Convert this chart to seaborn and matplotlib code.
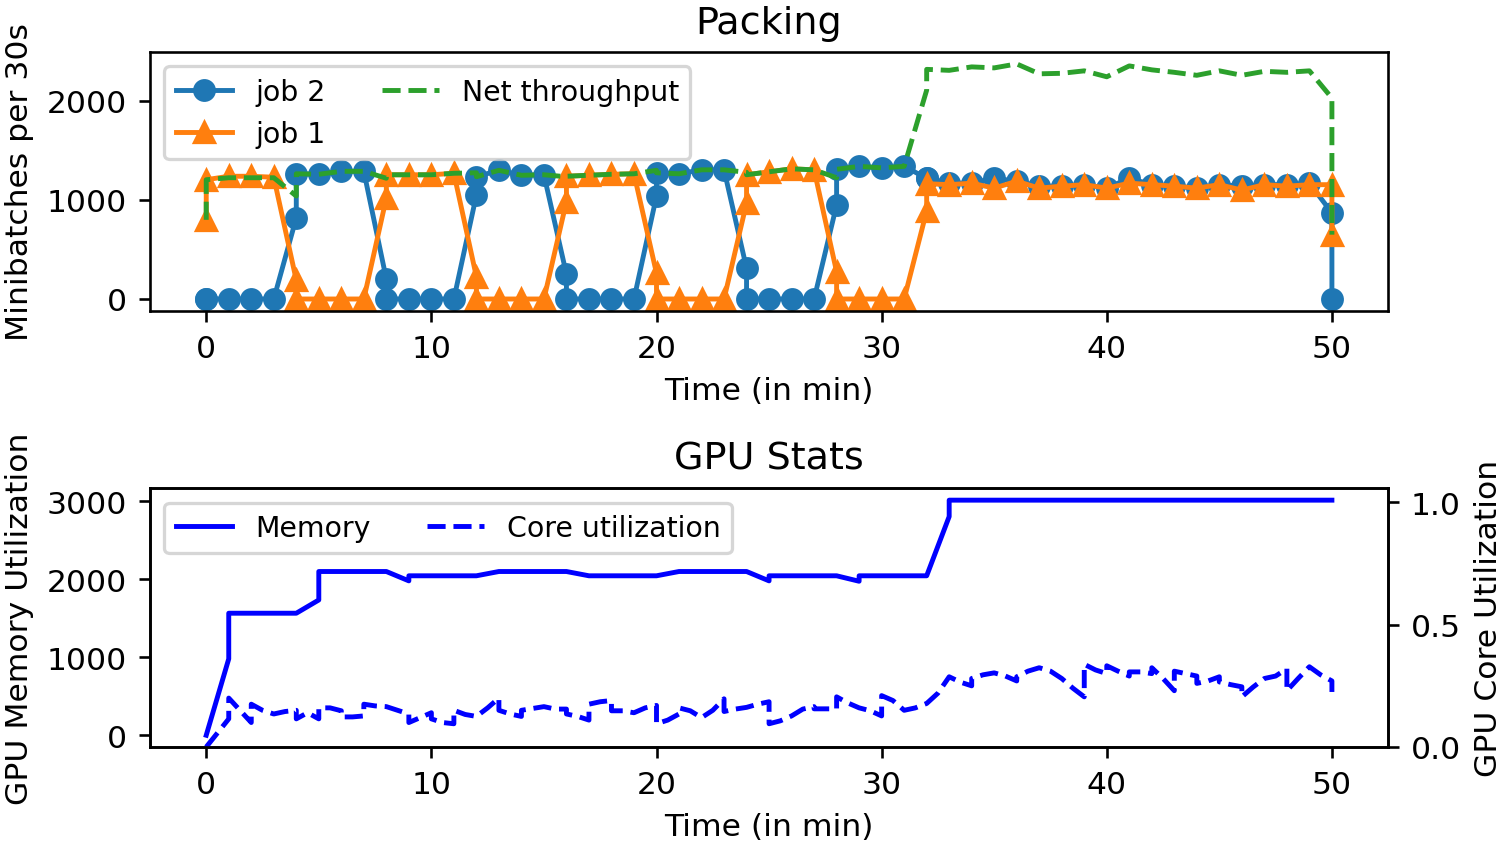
#!/usr/bin/env python3

import matplotlib
matplotlib.use("Agg")
import matplotlib.pyplot as plt
import seaborn as sns

plt.rcParams["font.size"] = 9.6
plt.rcParams["axes.titlesize"] = 11.7
plt.rcParams["legend.fontsize"] = 8.7

# ---- Packing: one sample per row, repeated minutes mark a switch-over ----
time_min = [0, 0, 1, 2, 3, 4, 4, 5, 6, 7, 8, 8, 9, 10, 11, 12, 12, 13, 14, 15,
            16, 16, 17, 18, 19, 20, 20, 21, 22, 23, 24, 24, 25, 26, 27, 28, 28,
            29, 30, 31, 32, 32, 33, 34, 35, 36, 37, 38, 39, 40, 41, 42, 43, 44,
            45, 46, 47, 48, 49, 50, 50]
job2 = [0, 0, 0, 0, 0, 820, 1265, 1260, 1290, 1290, 200, 0, 0, 0, 0, 1050, 1235,
        1300, 1250, 1255, 250, 0, 0, 0, 0, 1040, 1275, 1265, 1305, 1305, 310, 0,
        0, 0, 0, 950, 1310, 1340, 1325, 1340, 1220, 1220, 1170, 1170, 1220, 1190,
        1140, 1140, 1155, 1120, 1220, 1155, 1140, 1120, 1155, 1140, 1155, 1155,
        1170, 870, 0]
job1 = [800, 1205, 1240, 1240, 1230, 190, 0, 0, 0, 0, 1020, 1255, 1255, 1255,
        1270, 225, 0, 0, 0, 0, 985, 1240, 1250, 1260, 1265, 260, 0, 0, 0, 0, 970,
        1255, 1285, 1315, 1305, 275, 0, 0, 0, 0, 890, 1165, 1155, 1170, 1120, 1190,
        1120, 1140, 1155, 1120, 1170, 1155, 1140, 1120, 1155, 1100, 1155, 1140,
        1155, 1155, 650]
net_throughput = [800, 1205, 1225, 1225, 1225, 1040, 1265, 1260, 1290, 1290,
                  1220, 1255, 1255, 1255, 1270, 1275, 1235, 1300, 1250, 1255,
                  1235, 1240, 1250, 1260, 1265, 1300, 1275, 1265, 1305, 1305,
                  1280, 1255, 1285, 1315, 1305, 1225, 1310, 1340, 1325, 1340,
                  2110, 2320, 2310, 2345, 2335, 2375, 2275, 2280, 2305, 2245,
                  2355, 2315, 2290, 2260, 2305, 2260, 2300, 2290, 2305, 2030, 650]

# ---- GPU stats ----
mem_t = [0, 1, 1, 4, 5, 5, 8, 9, 9, 12, 13, 16, 17, 20, 21, 24, 25, 25, 28, 29,
         29, 32, 33, 33, 50]
mem_used = [0, 980, 1565, 1565, 1735, 2100, 2100, 1980, 2045, 2045, 2100, 2100,
            2045, 2045, 2100, 2100, 1980, 2045, 2045, 1975, 2045, 2045, 2805,
            3015, 3015]

core_t = [0, 1, 1, 2, 2, 2.5, 3, 3.5, 4, 4, 4.5, 5, 5, 5.5, 6, 6, 6.5, 7, 7,
          7.5, 8, 8.5, 9, 9, 9.5, 10, 10, 10.5, 11, 11, 11.5, 12, 12.5, 13, 13,
          13.5, 14, 14, 15, 15.5, 16, 16, 16.5, 17, 17, 17.5, 18, 18, 18.5, 19,
          19.5, 20, 20, 20.5, 21, 21, 21.5, 22, 22.5, 23, 23, 23.5, 24, 24.5, 25,
          25, 25.5, 26, 26.5, 27, 27, 28, 28, 28.5, 29, 29.5, 30, 30, 30.5, 31,
          31.5, 32, 32.5, 33, 33.5, 34, 34, 34.5, 35, 35.5, 36, 36, 36.5, 37,
          37.5, 38, 38.5, 39, 39, 39.5, 40, 40, 40.5, 41, 41, 41.5, 42, 42, 42.5,
          43, 43, 43.5, 44, 44, 44.5, 45, 45, 45.5, 46, 46, 46.5, 47, 47.5, 48,
          48, 48.5, 49, 49.5, 50, 50]
core_util = [0.0, 0.115, 0.20, 0.10, 0.175, 0.15, 0.135, 0.145, 0.15, 0.115,
             0.14, 0.115, 0.16, 0.16, 0.148, 0.123, 0.123, 0.127, 0.175, 0.168,
             0.165, 0.15, 0.135, 0.10, 0.12, 0.14, 0.115, 0.10, 0.095, 0.15,
             0.133, 0.125, 0.16, 0.20, 0.15, 0.135, 0.125, 0.15, 0.165, 0.155,
             0.155, 0.135, 0.125, 0.11, 0.175, 0.185, 0.19, 0.148, 0.148, 0.14,
             0.16, 0.17, 0.095, 0.11, 0.135, 0.16, 0.148, 0.12, 0.15, 0.197,
             0.145, 0.155, 0.162, 0.175, 0.185, 0.095, 0.107, 0.127, 0.155,
             0.165, 0.156, 0.156, 0.205, 0.18, 0.16, 0.148, 0.127, 0.21, 0.19,
             0.15, 0.16, 0.178, 0.22, 0.287, 0.265, 0.25, 0.28, 0.295, 0.303,
             0.29, 0.27, 0.287, 0.31, 0.324, 0.31, 0.28, 0.24, 0.205, 0.338,
             0.315, 0.30, 0.332, 0.31, 0.29, 0.307, 0.307, 0.30, 0.324, 0.28,
             0.23, 0.31, 0.30, 0.29, 0.26, 0.27, 0.287, 0.266, 0.255, 0.246,
             0.205, 0.245, 0.28, 0.29, 0.32, 0.23, 0.28, 0.328, 0.295, 0.27,
             0.225]

fig, (ax_pack, ax_gpu) = plt.subplots(2, 1, figsize=(6.4, 3.587), dpi=235)
fig.subplots_adjust(left=0.0997, right=0.923, top=0.937, bottom=0.1127,
                    hspace=0.687)

# top panel
sns.lineplot(x=time_min, y=job2, ax=ax_pack, estimator=None, sort=False,
             color="#1f77b4", marker="o", markersize=6,
             markeredgecolor="#1f77b4", markeredgewidth=1.0, label="job 2")
sns.lineplot(x=time_min, y=job1, ax=ax_pack, estimator=None, sort=False,
             color="#ff7f0e", marker="^", markersize=6,
             markeredgecolor="#ff7f0e", markeredgewidth=1.0, label="job 1")
sns.lineplot(x=time_min, y=net_throughput, ax=ax_pack, estimator=None,
             sort=False, color="#2ca02c", linestyle="--",
             label="Net throughput")
ax_pack.legend(ncol=2, loc="upper left")
ax_pack.set_title("Packing")
ax_pack.set_xlabel("Time (in min)")
ax_pack.set_ylabel("Minibatches per 30s")
ax_pack.set_xticks([0, 10, 20, 30, 40, 50])

# bottom panel
sns.lineplot(x=mem_t, y=mem_used, ax=ax_gpu, estimator=None, sort=False,
             color="b", label="Memory")
ax_core = ax_gpu.twinx()
sns.lineplot(x=core_t, y=core_util, ax=ax_core, estimator=None, sort=False,
             color="b", linestyle="--", label="Core utilization")
if ax_gpu.get_legend() is not None:
    ax_gpu.get_legend().remove()
h1, l1 = ax_gpu.get_legend_handles_labels()
h2, l2 = ax_core.get_legend_handles_labels()
ax_core.legend(h1 + h2, l1 + l2, ncol=2, loc="upper left")

ax_gpu.set_title("GPU Stats")
ax_gpu.set_xlabel("Time (in min)")
ax_gpu.set_ylabel("GPU Memory Utilization")
ax_gpu.set_xticks([0, 10, 20, 30, 40, 50])
ax_gpu.set_yticks([0, 1000, 2000, 3000])
ax_core.set_ylim(0, 1.057)
ax_core.set_yticks([0.0, 0.5, 1.0])
ax_core.set_ylabel("GPU Core Utilization")

fig.savefig("out.png", dpi=235)
